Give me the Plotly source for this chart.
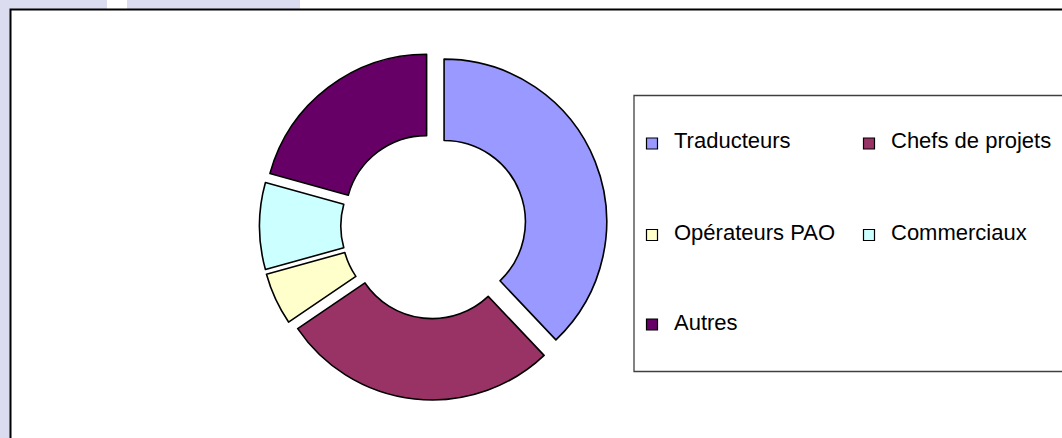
import plotly.graph_objects as go

# ---- data ----
categories = ["Traducteurs", "Chefs de projets", "Opérateurs PAO", "Commerciaux", "Autres"]
values = [22, 16, 3, 5, 12]
colors = ["#9999FF", "#993366", "#FFFFCC", "#CCFFFF", "#660066"]

W, H = 1062, 438


def px_x(x):
    return x / W


def px_y(y):
    return 1 - y / H


# pie box (pixels)
cx, cy, half = 433.5, 226, 174
fig = go.Figure(
    go.Pie(
        labels=categories,
        values=values,
        marker=dict(colors=colors, line=dict(color="#000000", width=1.6)),
        hole=0.5,
        pull=[0.07] * len(values),
        sort=False,
        direction="clockwise",
        rotation=0,
        textinfo="none",
        hoverinfo="label+percent",
        showlegend=False,
        domain=dict(x=[px_x(cx - half), px_x(cx + half)],
                    y=[px_y(cy + half), px_y(cy - half)]),
    )
)

shapes = []
lav = "#DCDCF0"
# background strips (watermark area)
shapes.append(dict(type="rect", xref="paper", yref="paper", x0=0, x1=px_x(10), y0=0, y1=1,
                   fillcolor=lav, line=dict(width=0), layer="below"))
shapes.append(dict(type="rect", xref="paper", yref="paper", x0=0, x1=px_x(107), y0=px_y(9), y1=1,
                   fillcolor=lav, line=dict(width=0), layer="below"))
shapes.append(dict(type="rect", xref="paper", yref="paper", x0=px_x(127), x1=px_x(300), y0=px_y(9), y1=1,
                   fillcolor=lav, line=dict(width=0), layer="below"))
# chart area border
shapes.append(dict(type="rect", xref="paper", yref="paper", x0=px_x(10.5), x1=px_x(1075),
                   y0=px_y(450), y1=px_y(9.5), fillcolor="rgba(0,0,0,0)",
                   line=dict(color="#000000", width=2), layer="above"))
# legend box
shapes.append(dict(type="rect", xref="paper", yref="paper", x0=px_x(634), x1=px_x(1075),
                   y0=px_y(371.5), y1=px_y(95.5), fillcolor="#FFFFFF",
                   line=dict(color="#404040", width=1.3), layer="below"))

annotations = []
col_x = [652, 869]
row_y = [143.5, 235, 324.5]
msz = 11
for i, (cat, col) in enumerate(zip(categories, colors)):
    r, c = divmod(i, 2)
    mx, my = col_x[c], row_y[r]
    shapes.append(dict(type="rect", xref="paper", yref="paper",
                       x0=px_x(mx - msz / 2), x1=px_x(mx + msz / 2),
                       y0=px_y(my + msz / 2), y1=px_y(my - msz / 2),
                       fillcolor=col, line=dict(color="#000000", width=1.2), layer="above"))
    annotations.append(dict(text=cat, xref="paper", yref="paper",
                            x=px_x(mx + 20), y=px_y(my - 2.5), xanchor="left", yanchor="middle",
                            showarrow=False,
                            font=dict(family="Liberation Sans, Arial", size=22, color="#000000")))

fig.update_layout(
    width=W, height=H,
    margin=dict(l=0, r=0, t=0, b=0),
    paper_bgcolor="#FFFFFF",
    plot_bgcolor="#FFFFFF",
    shapes=shapes,
    annotations=annotations,
    showlegend=False,
)

fig.write_html(
    "out.html",
    config={"displayModeBar": False},
    post_script="document.body.style.margin='0';document.body.style.overflow='hidden';",
)
